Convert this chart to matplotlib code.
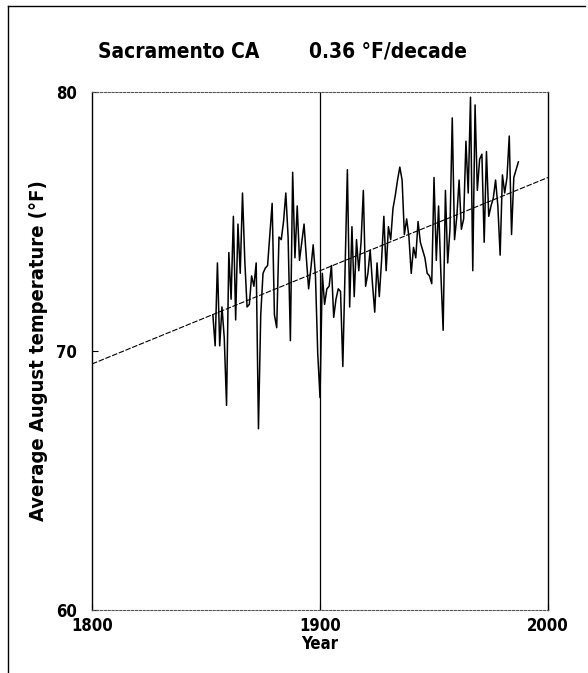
import matplotlib.pyplot as plt
from matplotlib.lines import Line2D

plt.rcParams['font.family'] = ['DejaVu Sans']
plt.rcParams['font.stretch'] = 'condensed'
plt.rcParams['font.weight'] = 'bold'

# average August temperature, Sacramento CA
years = list(range(1853, 1988))
temps = [
    71.4, 70.2, 73.4, 70.2, 71.7, 70.5, 67.9, 73.8, 72.0, 75.2,   # 1853-1862
    71.2, 74.9, 73.0, 76.1, 73.5, 71.7, 71.8, 72.9, 72.5, 73.4,   # 1863-1872
    67.0, 71.4, 73.0, 73.2, 73.3, 74.5, 75.7, 71.4, 70.9, 74.4,   # 1873-1882
    74.3, 75.0, 76.1, 74.4, 70.4, 76.9, 73.6, 75.6, 73.5, 74.2,   # 1883-1892
    74.9, 73.6, 72.4, 73.2, 74.1, 72.9, 69.9, 68.2, 73.0, 71.8,   # 1893-1902
    72.4, 72.5, 73.3, 71.3, 72.0, 72.4, 72.3, 69.4, 73.2, 77.0,   # 1903-1912
    71.7, 74.8, 72.1, 74.3, 73.1, 74.2, 76.2, 72.5, 73.0, 73.9,   # 1913-1922
    72.6, 71.5, 73.4, 72.1, 73.5, 75.2, 73.1, 74.8, 74.3, 75.5,   # 1923-1932
    76.0, 76.6, 77.1, 76.6, 74.5, 75.1, 74.4, 73.0, 74.0, 73.6,   # 1933-1942
    75.0, 74.2, 73.9, 73.6, 73.0, 72.9, 72.6, 76.7, 73.5, 75.6,   # 1943-1952
    73.0, 70.8, 76.2, 73.4, 74.7, 79.0, 74.3, 75.2, 76.6, 74.7,   # 1953-1962
    75.1, 78.1, 76.1, 79.8, 73.1, 79.5, 76.2, 77.4, 77.6, 74.2,   # 1963-1972
    77.7, 75.2, 75.6, 75.9, 76.6, 75.6, 73.7, 76.8, 76.1, 76.7,   # 1973-1982
    78.3, 74.5, 76.7, 77.0, 77.3,                                 # 1983-1987
]

trend_years = [1800, 2000]
trend_start = 69.5
trend_slope = 0.036  # 0.36 F per decade
trend_vals = [trend_start + trend_slope * (y - 1800) for y in trend_years]

fig = plt.figure(figsize=(5.88, 6.73), dpi=100)
ax = fig.add_axes([0.1565, 0.0936, 0.7755, 0.7697])

ax.plot(years, temps, color='black', lw=1.1)
ax.plot(trend_years, trend_vals, color='black', lw=0.8, ls=(0, (5, 1.5)))
ax.axvline(1900, color='black', lw=0.9)

ax.set_xlim(1800, 2000)
ax.set_ylim(60, 80)
ax.set_xticks([1800, 1900, 2000])
ax.set_yticks([60, 70, 80])
ax.tick_params(direction='in', length=4, width=0.8, labelsize=12)
ax.tick_params(axis='y', pad=11)
ax.tick_params(axis='x', pad=5)
for lab in ax.get_xticklabels() + ax.get_yticklabels():
    lab.set_fontweight('bold')

for s in ['top', 'bottom']:
    ax.spines[s].set_linestyle((0, (2, 1.5)))
    ax.spines[s].set_color('#555555')
    ax.spines[s].set_linewidth(0.8)
for s in ['left', 'right']:
    ax.spines[s].set_color('black')
    ax.spines[s].set_linewidth(1.0)

ax.set_xlabel('Year', fontsize=12, fontweight='bold', labelpad=0)
ax.set_ylabel('Average August temperature (\u00b0F)', fontsize=14.5,
              fontweight='bold', labelpad=6)

fig.text(0.304, 0.914, 'Sacramento CA', fontsize=15, fontweight='bold',
         ha='center', va='baseline')
fig.text(0.66, 0.914, '0.36 \u00b0F/decade', fontsize=15, fontweight='bold',
         ha='center', va='baseline')

# scanned page frame
fig.add_artist(Line2D([0.014, 0.995], [0.991, 0.991], color='black', lw=1.0,
                      transform=fig.transFigure))
fig.add_artist(Line2D([0.014, 0.014], [0.0, 0.991], color='black', lw=1.0,
                      transform=fig.transFigure))

fig.savefig('out.png', dpi=100)
